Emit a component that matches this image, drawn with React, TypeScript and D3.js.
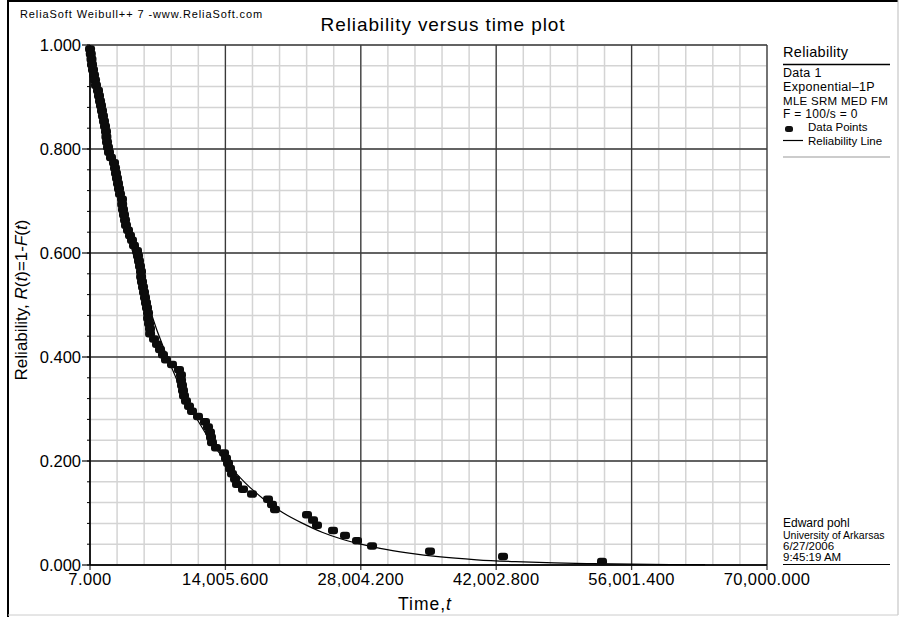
import { useEffect, useRef } from "react";
import * as d3 from "d3";

const timeTicks = [7, 14005.6, 28004.2, 42002.8, 56001.4, 70000];
const timeTickLabels = ["7.000", "14,005.600", "28,004.200", "42,002.800", "56,001.400", "70,000.000"];
const reliabilityTicks = [0, 0.2, 0.4, 0.6, 0.8, 1.0];
const reliabilityTickLabels = ["0.000", "0.200", "0.400", "0.600", "0.800", "1.000"];

const pointTimes = [
    10, 90, 160, 214, 317, 421, 524, 627, 834, 937,
    1041, 1144, 1248, 1351, 1454, 1558, 1661, 1700, 1765, 1868,
    1971, 2178, 2488, 2592, 2695, 2798, 2902, 3005, 3109, 3315,
    3330, 3419, 3522, 3626, 3729, 3936, 4143, 4349, 4556, 4867,
    4970, 5073, 5177, 5280, 5290, 5383, 5487, 5590, 5694, 5797,
    5900, 6004, 6010, 6107, 6210, 6220, 6624, 6934, 7244, 7554,
    7865, 8485, 9209, 9415, 9420, 9519, 9622, 9726, 9932, 10243,
    10553, 11173, 11897, 12207, 12414, 12517, 12621, 13034, 13862, 14068,
    14275, 14482, 14689, 14999, 15206, 15826, 16757, 18411, 18825, 19135,
    22443, 23064, 23477, 25131, 26372, 27613, 29164, 35160, 42708, 52943,
];
const pointReliability = [
    0.993, 0.983, 0.973, 0.963, 0.953, 0.943, 0.933, 0.923, 0.913, 0.903,
    0.893, 0.884, 0.874, 0.864, 0.854, 0.844, 0.834, 0.824, 0.814, 0.804,
    0.794, 0.784, 0.774, 0.764, 0.754, 0.744, 0.734, 0.724, 0.714, 0.704,
    0.694, 0.684, 0.674, 0.664, 0.654, 0.644, 0.634, 0.625, 0.615, 0.605,
    0.595, 0.585, 0.575, 0.565, 0.555, 0.545, 0.535, 0.525, 0.515, 0.505,
    0.495, 0.485, 0.475, 0.465, 0.455, 0.445, 0.435, 0.425, 0.415, 0.405,
    0.395, 0.386, 0.376, 0.366, 0.356, 0.346, 0.336, 0.326, 0.316, 0.306,
    0.296, 0.286, 0.276, 0.266, 0.256, 0.246, 0.236, 0.226, 0.216, 0.206,
    0.196, 0.186, 0.176, 0.166, 0.156, 0.146, 0.137, 0.127, 0.117, 0.107,
    0.097, 0.087, 0.077, 0.067, 0.057, 0.047, 0.037, 0.027, 0.017, 0.007,
];

// fitted reliability line
const lineTimes = [7, 2000, 4000, 6000, 8000, 10000, 12000, 14000, 16000, 18000, 20000, 22000, 24000, 26000, 28000, 30000, 33000, 36000, 40000, 44000, 48000, 52000, 56000, 60000, 63600];
const lineReliability = [1.0, 0.795, 0.632, 0.502, 0.399, 0.317, 0.252, 0.2, 0.159, 0.126, 0.1, 0.08, 0.063, 0.05, 0.04, 0.032, 0.023, 0.016, 0.01, 0.0064, 0.004, 0.0025, 0.0016, 0.001, 0.0007];

const legendLines = [
    { text: "Data 1", y: 77, size: 12.5 },
    { text: "Exponential\u20131P", y: 91, size: 12.5 },
    { text: "MLE SRM MED FM", y: 105, size: 11.5 },
    { text: "F = 100/s = 0", y: 118, size: 12 },
];
const footerLines = [
    { text: "Edward pohl", y: 527, size: 12 },
    { text: "University of Arkarsas", y: 539, size: 10.5 },
    { text: "6/27/2006", y: 550, size: 11.5 },
    { text: "9:45:19 AM", y: 561, size: 11.5 },
];

const FONT = "'Liberation Sans', Arial, Helvetica, sans-serif";

function App() {
    const svgRef = useRef<SVGSVGElement>(null);

    useEffect(() => {
        const svgEl = svgRef.current;
        if (!svgEl) return;
        const width = 901;
        const height = 617;
        const ml = 90, mr = 134, mt = 45, mb = 52;

        d3.select(svgEl).selectAll("*").remove();
        const svg = d3.select(svgEl)
            .attr("width", width)
            .attr("height", height);

        svg.append("rect").attr("width", width).attr("height", height).attr("fill", "#fff");

        const xScale = d3.scaleLinear().domain([7, 70000]).range([ml, width - mr]);
        const yScale = d3.scaleLinear().domain([0, 1]).range([height - mb, mt]);
        const [x0, x1] = xScale.range();
        const [y0, y1] = yScale.range();

        // minor grid
        const step = (70000 - 7) / 25;
        const minorX = d3.range(26).map(i => 7 + i * step);
        const minorY = d3.range(26).map(i => i * 0.04);

        svg.append("g")
            .selectAll("line")
            .data(minorX)
            .join("line")
            .attr("x1", d => xScale(d)).attr("x2", d => xScale(d))
            .attr("y1", y1).attr("y2", y0)
            .attr("stroke", "#d4d4d4").attr("stroke-width", 1.5);
        svg.append("g")
            .selectAll("line")
            .data(minorY)
            .join("line")
            .attr("x1", x0).attr("x2", x1)
            .attr("y1", d => yScale(d)).attr("y2", d => yScale(d))
            .attr("stroke", "#d4d4d4").attr("stroke-width", 1.5);

        // major grid
        svg.append("g")
            .selectAll("line")
            .data(timeTicks)
            .join("line")
            .attr("x1", d => xScale(d)).attr("x2", d => xScale(d))
            .attr("y1", y1).attr("y2", y0 + 5)
            .attr("stroke", "#3a3a3a").attr("stroke-width", 1.3);
        svg.append("g")
            .selectAll("line")
            .data(reliabilityTicks)
            .join("line")
            .attr("x1", x0 - 8).attr("x2", x1)
            .attr("y1", d => yScale(d)).attr("y2", d => yScale(d))
            .attr("stroke", "#3a3a3a").attr("stroke-width", 1.3);

        // minor y ticks
        svg.append("g")
            .selectAll("line")
            .data(minorY)
            .join("line")
            .attr("x1", x0 - 3).attr("x2", x0)
            .attr("y1", d => yScale(d)).attr("y2", d => yScale(d))
            .attr("stroke", "#000").attr("stroke-width", 1);

        // axes
        svg.append("line").attr("x1", x0).attr("x2", x0).attr("y1", y1).attr("y2", y0)
            .attr("stroke", "#000").attr("stroke-width", 1.5);
        svg.append("line").attr("x1", x0).attr("x2", x1).attr("y1", y0).attr("y2", y0)
            .attr("stroke", "#000").attr("stroke-width", 1.5);

        // tick labels
        svg.append("g")
            .selectAll("text")
            .data(timeTicks)
            .join("text")
            .attr("x", d => xScale(d))
            .attr("y", 585)
            .attr("text-anchor", "middle")
            .attr("font-family", FONT)
            .attr("font-size", "16.5px")
            .attr("letter-spacing", "0.4px")
            .text((d, i) => timeTickLabels[i]);
        svg.append("g")
            .selectAll("text")
            .data(reliabilityTicks)
            .join("text")
            .attr("x", 81)
            .attr("y", d => yScale(d) + 6)
            .attr("text-anchor", "end")
            .attr("font-family", FONT)
            .attr("font-size", "16.5px")
            .text((d, i) => reliabilityTickLabels[i]);

        // reliability line
        const line = d3.line<number>()
            .x((d, i) => xScale(lineTimes[i]))
            .y(d => yScale(d))
            .curve(d3.curveMonotoneX);
        svg.append("path")
            .datum(lineReliability)
            .attr("d", line)
            .attr("fill", "none")
            .attr("stroke", "#000")
            .attr("stroke-width", 1.2);

        // data points
        svg.append("g")
            .selectAll("rect")
            .data(pointTimes)
            .join("rect")
            .attr("x", d => xScale(d) - 5)
            .attr("y", (d, i) => yScale(pointReliability[i]) - 3.5)
            .attr("width", 10)
            .attr("height", 7.5)
            .attr("rx", 3)
            .attr("fill", "#0c0c0c");

        // titles
        svg.append("text")
            .attr("x", 20).attr("y", 18)
            .attr("font-family", FONT).attr("font-size", "11px")
            .attr("letter-spacing", "0.9px")
            .text("ReliaSoft Weibull++ 7 -www.ReliaSoft.com");
        svg.append("text")
            .attr("x", 443).attr("y", 31)
            .attr("text-anchor", "middle")
            .attr("font-family", FONT).attr("font-size", "19px")
            .attr("letter-spacing", "0.9px")
            .text("Reliability versus time plot");

        const xLabel = svg.append("text")
            .attr("x", 425).attr("y", 610)
            .attr("text-anchor", "middle")
            .attr("font-family", FONT).attr("font-size", "17.5px")
            .attr("letter-spacing", "1px");
        xLabel.append("tspan").text("Time,");
        xLabel.append("tspan").attr("font-style", "italic").text("t");

        const yLabel = svg.append("text")
            .attr("transform", `translate(27,300) rotate(-90)`)
            .attr("text-anchor", "middle")
            .attr("font-family", FONT).attr("font-size", "17px");
        yLabel.append("tspan").text("Reliability, ");
        yLabel.append("tspan").attr("font-style", "italic").text("R");
        yLabel.append("tspan").text("(");
        yLabel.append("tspan").attr("font-style", "italic").text("t");
        yLabel.append("tspan").text(")=1-");
        yLabel.append("tspan").attr("font-style", "italic").text("F");
        yLabel.append("tspan").text("(");
        yLabel.append("tspan").attr("font-style", "italic").text("t");
        yLabel.append("tspan").text(")");

        // legend
        const lx = 783;
        svg.append("text").attr("x", lx).attr("y", 57)
            .attr("font-family", FONT).attr("font-size", "14.5px").attr("letter-spacing", "0.3px").text("Reliability");
        svg.append("line").attr("x1", lx).attr("x2", 890).attr("y1", 64.5).attr("y2", 64.5)
            .attr("stroke", "#000").attr("stroke-width", 1.5);
        svg.append("g")
            .selectAll("text")
            .data(legendLines)
            .join("text")
            .attr("x", lx).attr("y", d => d.y)
            .attr("font-family", FONT).attr("font-size", d => `${d.size}px`)
            .attr("letter-spacing", "0.3px")
            .text(d => d.text);
        svg.append("rect").attr("x", 785).attr("y", 126).attr("width", 8).attr("height", 6).attr("rx", 2.5).attr("fill", "#111");
        svg.append("text").attr("x", 808).attr("y", 131)
            .attr("font-family", FONT).attr("font-size", "11.5px").text("Data Points");
        svg.append("line").attr("x1", lx).attr("x2", 803).attr("y1", 140.5).attr("y2", 140.5)
            .attr("stroke", "#000").attr("stroke-width", 1.2);
        svg.append("text").attr("x", 808).attr("y", 145)
            .attr("font-family", FONT).attr("font-size", "11.5px").text("Reliability Line");
        svg.append("line").attr("x1", lx).attr("x2", 890).attr("y1", 157).attr("y2", 157)
            .attr("stroke", "#999").attr("stroke-width", 1);

        // footer stamp
        svg.append("g")
            .selectAll("text")
            .data(footerLines)
            .join("text")
            .attr("x", lx).attr("y", d => d.y)
            .attr("font-family", FONT).attr("font-size", d => `${d.size}px`)
            .text(d => d.text);
        svg.append("line").attr("x1", lx).attr("x2", 890).attr("y1", 564.5).attr("y2", 564.5)
            .attr("stroke", "#000").attr("stroke-width", 1.2);

        // frame
        svg.append("line").attr("x1", 8).attr("x2", 8).attr("y1", 0).attr("y2", 617)
            .attr("stroke", "#000").attr("stroke-width", 2);
        svg.append("line").attr("x1", 8).attr("x2", 898).attr("y1", 1).attr("y2", 1)
            .attr("stroke", "#000").attr("stroke-width", 2);
        svg.append("line").attr("x1", 898).attr("x2", 898).attr("y1", 0).attr("y2", 615)
            .attr("stroke", "#bbb").attr("stroke-width", 1);
        svg.append("line").attr("x1", 8).attr("x2", 898).attr("y1", 615).attr("y2", 615)
            .attr("stroke", "#ccc").attr("stroke-width", 1);
    }, []);

    return (
        <div style={{ position: "absolute", left: 0, top: 0, width: 901, height: 617, overflow: "hidden" }}>
            <svg ref={svgRef} style={{ display: "block" }} />
        </div>
    );
}

export default App;
